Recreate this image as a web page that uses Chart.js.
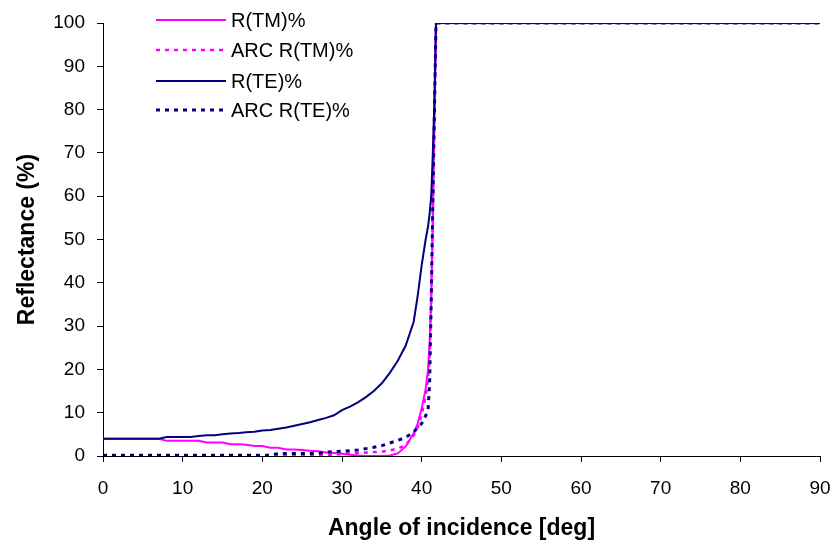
<!DOCTYPE html>
<html>
<head>
<meta charset="utf-8">
<script src="https://cdn.jsdelivr.net/npm/chart.js@4/dist/chart.umd.min.js"></script>
<style>
html,body{margin:0;padding:0;background:#fff;}
#wrap{width:836px;height:546px;}
</style>
</head>
<body>
<div id="wrap"><canvas id="c" width="836" height="546"></canvas></div>
<script>
const angles = [0,1,2,3,4,5,6,7,8,9,10,11,12,13,14,15,16,17,18,19,20,21,22,23,24,25,26,27,28,29,30,31,32,33,34,35,36,37,38,39,39.5,40,40.5,40.8,41,41.2,41.4,41.6,41.8,42,90];
const rTM = [4.0,4.0,4.0,4.0,4.0,4.0,4.0,4.0,3.5,3.5,3.5,3.5,3.5,3.1,3.1,3.1,2.7,2.7,2.6,2.3,2.3,1.9,1.9,1.5,1.5,1.4,1.2,1.1,0.8,0.7,0.5,0.3,0.1,0.0,0.0,0.0,0.1,0.6,2.2,5.3,7.5,11,15.5,20,26,36,55,78,100,100,100];
const arcTM = [0.1,0.1,0.1,0.1,0.1,0.1,0.1,0.1,0.1,0.1,0.1,0.1,0.1,0.1,0.1,0.1,0.1,0.1,0.1,0.1,0.1,0.1,0.3,0.3,0.3,0.3,0.3,0.3,0.3,0.3,0.5,0.6,0.7,0.8,0.9,1.0,1.3,1.7,2.5,4.8,6.6,9.5,13.7,18,23,36,56,79,100,100,100];
const rTE = [4.0,4.0,4.0,4.0,4.0,4.0,4.0,4.0,4.4,4.4,4.4,4.4,4.6,4.8,4.8,5.0,5.2,5.3,5.5,5.6,5.9,6.0,6.3,6.6,7.0,7.4,7.8,8.3,8.8,9.4,10.6,11.4,12.4,13.6,15.0,16.8,19.2,22.0,25.5,31.0,37,44,50,53,56,60,70,82,100,100,100];
const arcTE = [0.2,0.2,0.2,0.2,0.2,0.2,0.2,0.2,0.2,0.2,0.2,0.2,0.2,0.2,0.2,0.2,0.2,0.2,0.2,0.2,0.2,0.2,0.6,0.6,0.6,0.6,0.6,0.6,0.9,1.0,1.1,1.2,1.4,1.7,2.0,2.4,3.0,3.6,4.3,5.5,6.6,7.5,9.3,10.5,17,36,58,79,100,100,100];
const seriesNames = ['R(TM)%','ARC R(TM)%','R(TE)%','ARC R(TE)%'];
const xTicks = [0,10,20,30,40,50,60,70,80,90];
const yTicks = [0,10,20,30,40,50,60,70,80,90,100];

const pts = arr => arr.map((v,i)=>({x:angles[i], y:v}));
const FONT = '"Liberation Sans", Arial, sans-serif';

const legendPlugin = {
  id:'customLegend',
  afterDraw(chart){
    const ctx = chart.ctx;
    const rows = [20, 50, 81, 110];
    const ds = chart.data.datasets;
    ctx.save();
    ds.forEach((d,i)=>{
      const y = rows[i];
      ctx.beginPath();
      ctx.strokeStyle = d.borderColor;
      ctx.lineWidth = d.borderWidth;
      ctx.setLineDash(d.borderDash || []);
      ctx.moveTo(156, y); ctx.lineTo(226, y);
      ctx.stroke();
      ctx.setLineDash([]);
      ctx.fillStyle = '#000';
      ctx.font = '20px ' + FONT;
      ctx.textBaseline = 'middle';
      ctx.textAlign = 'left';
      ctx.fillText(d.label, 231, y + 1);
    });
    ctx.restore();
  }
};

new Chart(document.getElementById('c'), {
  type:'line',
  data:{
    datasets:[
      {label:seriesNames[0], data:pts(rTM), borderColor:'#FF00FF', borderWidth:2, pointRadius:0, order:4},
      {label:seriesNames[1], data:pts(arcTM), borderColor:'#FF00FF', borderWidth:2.5, borderDash:[4,5], pointRadius:0, order:3},
      {label:seriesNames[2], data:pts(rTE), borderColor:'#000080', borderWidth:2, pointRadius:0, order:2},
      {label:seriesNames[3], data:pts(arcTE), borderColor:'#000080', borderWidth:3, borderDash:[4,5], pointRadius:0, order:1}
    ]
  },
  options:{
    responsive:false,
    animation:false,
    layout:{padding:{left:0,top:23,right:16,bottom:0}},
    plugins:{legend:{display:false}, tooltip:{enabled:false}},
    elements:{line:{tension:0, fill:false}},
    scales:{
      x:{
        type:'linear', min:0, max:90,
        afterBuildTicks: s => { s.ticks = xTicks.map(v=>({value:v})); },
        afterFit: s => { s.height = 90; s.paddingLeft = 0; s.paddingRight = 0; },
        grid:{drawOnChartArea:false, color:'#000', tickLength:6, lineWidth:1},
        border:{color:'#000', width:1},
        ticks:{color:'#000', font:{family:FONT, size:19}, padding:15, maxRotation:0},
        title:{display:true, text:'Angle of incidence [deg]', color:'#000', font:{family:FONT, size:23, weight:'bold'}, padding:{top:0,bottom:4}}
      },
      y:{
        type:'linear', min:0, max:100,
        afterBuildTicks: s => { s.ticks = yTicks.map(v=>({value:v})); },
        afterFit: s => { s.width = 103; s.paddingTop = 0; s.paddingBottom = 0; },
        grid:{drawOnChartArea:false, color:'#000', tickLength:6, lineWidth:1},
        border:{color:'#000', width:1},
        ticks:{color:'#000', font:{family:FONT, size:19}, padding:12},
        title:{display:true, text:'Reflectance (%)', color:'#000', font:{family:FONT, size:23, weight:'bold'}, padding:{top:14,bottom:0}}
      }
    }
  },
  plugins:[legendPlugin]
});
</script>
</body>
</html>
